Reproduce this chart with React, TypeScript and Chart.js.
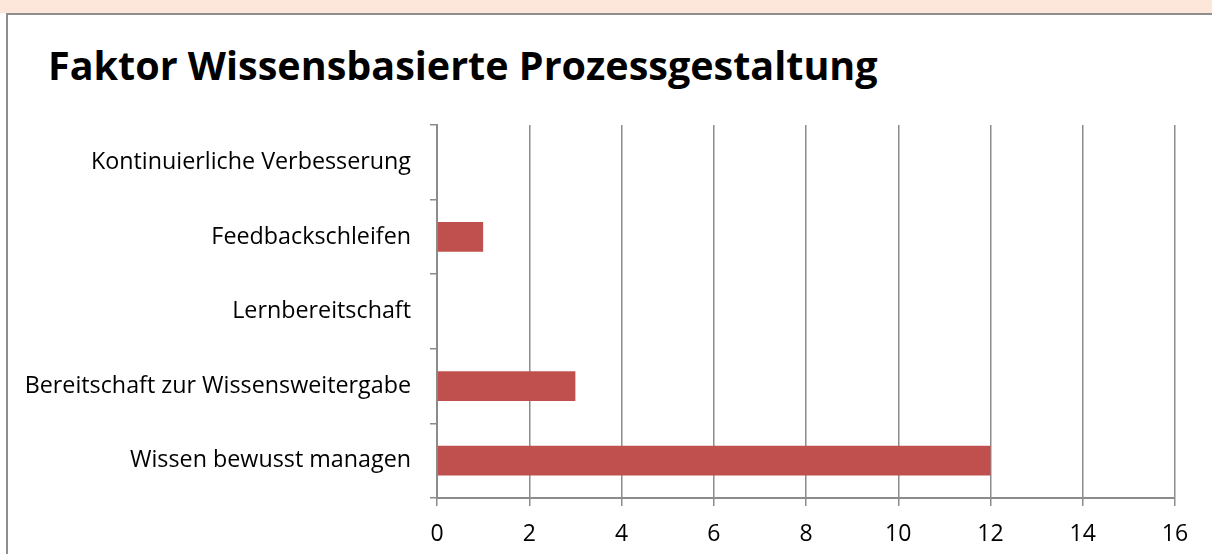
import React, { useEffect, useRef } from "react";
import { Chart, registerables } from "chart.js";

Chart.register(...registerables);

const TITLE = "Faktor Wissensbasierte Prozessgestaltung";
const categories = [
  "Kontinuierliche Verbesserung",
  "Feedbackschleifen",
  "Lernbereitschaft",
  "Bereitschaft zur Wissensweitergabe",
  "Wissen bewusst managen",
];
const values = [0, 1, 0, 3, 12];
const xMin = 0;
const xMax = 16;
const xStep = 2;

const FONT = "'Open Sans', sans-serif";
const GRID = "#8c8c8c";

export default function App() {
  const ref = useRef<HTMLCanvasElement | null>(null);
  useEffect(() => {
    if (!ref.current) return;
    const chart = new Chart(ref.current, {
      type: "bar",
      data: {
        labels: categories,
        datasets: [
          {
            data: values,
            backgroundColor: "#C0504D",
            borderWidth: 0,
            barPercentage: 0.4,
            categoryPercentage: 1,
          },
        ],
      },
      options: {
        indexAxis: "y",
        animation: false,
        responsive: false,
        maintainAspectRatio: false,
        layout: { padding: { left: 0, right: 37, top: 125, bottom: 0 } },
        plugins: {
          legend: { display: false },
          tooltip: { enabled: false },
          title: { display: false },
        },
        scales: {
          x: {
            min: xMin,
            max: xMax,
            ticks: {
              stepSize: xStep,
              color: "#000",
              font: { family: FONT, size: 23 },
              padding: 15,
              maxRotation: 0,
            },
            grid: {
              color: GRID,
              lineWidth: 1.5,
              drawTicks: true,
              tickLength: 8,
              tickColor: GRID,
            },
            border: { display: true, color: GRID, width: 2 },
            afterFit: (s: any) => {
              s.height = 56;
            },
          },
          y: {
            ticks: {
              color: "#000",
              font: { family: FONT, size: 23.3 },
              padding: 19,
            },
            grid: {
              drawOnChartArea: false,
              drawTicks: true,
              tickLength: 7,
              tickColor: GRID,
              lineWidth: 1.5,
              offset: true,
            },
            border: { display: true, color: GRID, width: 2 },
            afterFit: (s: any) => {
              s.width = 437;
            },
          },
        },
      },
    });
    return () => chart.destroy();
  }, []);

  return (
    <div
      style={{
        position: "fixed",
        left: 0,
        top: 0,
        width: 1212,
        height: 554,
        overflow: "hidden",
        background: "#fff",
      }}
    >
      <div
        style={{
          position: "absolute",
          left: 0,
          top: 0,
          width: 1212,
          height: 13,
          background: "#fde6da",
        }}
      />
      <div
        style={{
          position: "absolute",
          left: 6,
          top: 13,
          width: 1400,
          height: 800,
          border: "2px solid #8e8e8e",
          background: "#fff",
        }}
      />
      <div
        style={{
          position: "absolute",
          left: 48,
          top: 45,
          fontFamily: FONT,
          fontWeight: "bold",
          fontSize: "39.5px",
          lineHeight: "40px",
          color: "#000",
          whiteSpace: "nowrap",
        }}
      >
        {TITLE}
      </div>
      <canvas
        ref={ref}
        width={1212}
        height={554}
        style={{ position: "absolute", left: 0, top: 0 }}
      />
    </div>
  );
}
